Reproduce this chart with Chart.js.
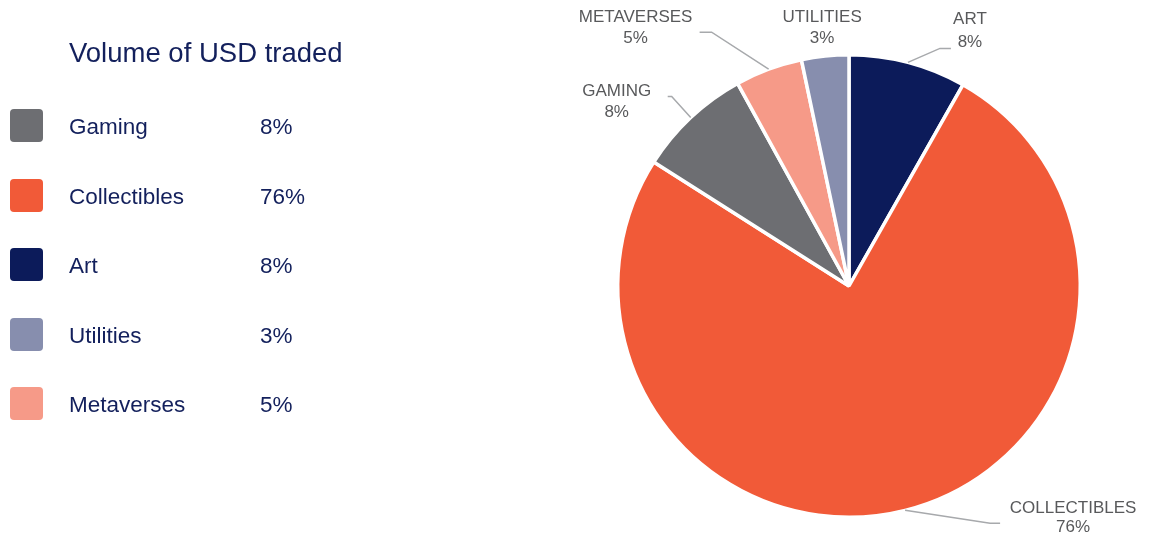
<!DOCTYPE html>
<html>
<head>
<meta charset="utf-8">
<script src="https://cdn.jsdelivr.net/npm/chart.js@4"></script>
<style>
  html, body { margin: 0; padding: 0; background: #fff; }
  #wrap { position: relative; width: 1155px; height: 539px; font-family: "Liberation Sans", Arial, sans-serif; color: #13205c; }
  #pie { position: absolute; left: 0; top: 0; }
  #title { position: absolute; left: 69px; top: 37px; font-size: 27.5px; white-space: nowrap; }
  .row { position: absolute; left: 10px; height: 33px; width: 340px; }
  .sw { position: absolute; left: 0; top: 0; width: 33px; height: 33px; border-radius: 4px; }
  .lab { position: absolute; left: 59px; top: 5px; font-size: 22.5px; }
  .pct { position: absolute; left: 250px; top: 5px; font-size: 22.5px; }
</style>
</head>
<body>
<div id="wrap">
  <canvas id="pie" width="1155" height="539"></canvas>
  <div id="title">Volume of USD traded</div>
</div>
<script>
const categories = ['Art', 'Collectibles', 'Gaming', 'Metaverses', 'Utilities'];
const volumeShare = [8.2, 75.8, 8.0, 4.7, 3.3];
const sliceColors = ['#0c1b5a', '#f15a38', '#6d6e72', '#f69a88', '#878eae'];
const legendOrder = ['Gaming', 'Collectibles', 'Art', 'Utilities', 'Metaverses'];

const total = volumeShare.reduce((a, b) => a + b, 0);
const pct = i => Math.round(volumeShare[i] / total * 100) + '%';

// legend on the left
const wrap = document.getElementById('wrap');
legendOrder.forEach((name, k) => {
  const i = categories.indexOf(name);
  const row = document.createElement('div');
  row.className = 'row';
  row.style.top = (109 + k * 69.5) + 'px';
  row.innerHTML = '<div class="sw" style="background:' + sliceColors[i] + '"></div>' +
    '<div class="lab">' + name + '</div><div class="pct">' + pct(i) + '</div>';
  wrap.appendChild(row);
});

// leader line + text offsets from the slice edge point (layout only)
const labelLayout = {
  Art:         { line: [[32, -14], [43, -14]], text: [62, -43, -20] },
  Collectibles:{ line: [[85, 13], [95, 13]],   text: [168, -2, 17] },
  Gaming:      { line: [[-19, -21], [-23, -21]], text: [-74, -26, -5] },
  Metaverses:  { line: [[-57, -37], [-69, -37]], text: [-133, -52, -31] },
  Utilities:   { line: null, text: [-3, -39, -18] }
};

const outsideLabels = {
  id: 'outsideLabels',
  afterDatasetsDraw(chart) {
    const ctx = chart.ctx;
    const meta = chart.getDatasetMeta(0);
    meta.data.forEach((arc, i) => {
      const p = arc.getProps(['x', 'y', 'startAngle', 'endAngle', 'outerRadius']);
      const mid = (p.startAngle + p.endAngle) / 2;
      const ex = p.x + Math.cos(mid) * p.outerRadius;
      const ey = p.y + Math.sin(mid) * p.outerRadius;
      const lay = labelLayout[categories[i]];
      ctx.save();
      if (lay.line) {
        ctx.strokeStyle = '#a7a9ac';
        ctx.lineWidth = 1.5;
        ctx.beginPath();
        ctx.moveTo(ex, ey);
        lay.line.forEach(pt => ctx.lineTo(ex + pt[0], ey + pt[1]));
        ctx.stroke();
      }
      ctx.fillStyle = '#58595b';
      ctx.font = '17px "Liberation Sans", Arial, sans-serif';
      ctx.textAlign = 'center';
      ctx.textBaseline = 'middle';
      ctx.fillText(categories[i].toUpperCase(), ex + lay.text[0], ey + lay.text[1]);
      ctx.fillText(pct(i), ex + lay.text[0], ey + lay.text[2]);
      ctx.restore();
    });
  }
};

new Chart(document.getElementById('pie'), {
  type: 'pie',
  data: {
    labels: categories,
    datasets: [{
      data: volumeShare,
      backgroundColor: sliceColors,
      borderColor: '#ffffff',
      borderWidth: 3.5
    }]
  },
  options: {
    responsive: false,
    animation: false,
    layout: { padding: { left: 616, right: 73, top: 53, bottom: 20 } },
    plugins: {
      legend: { display: false },
      tooltip: { enabled: false }
    }
  },
  plugins: [outsideLabels]
});
</script>
</body>
</html>
